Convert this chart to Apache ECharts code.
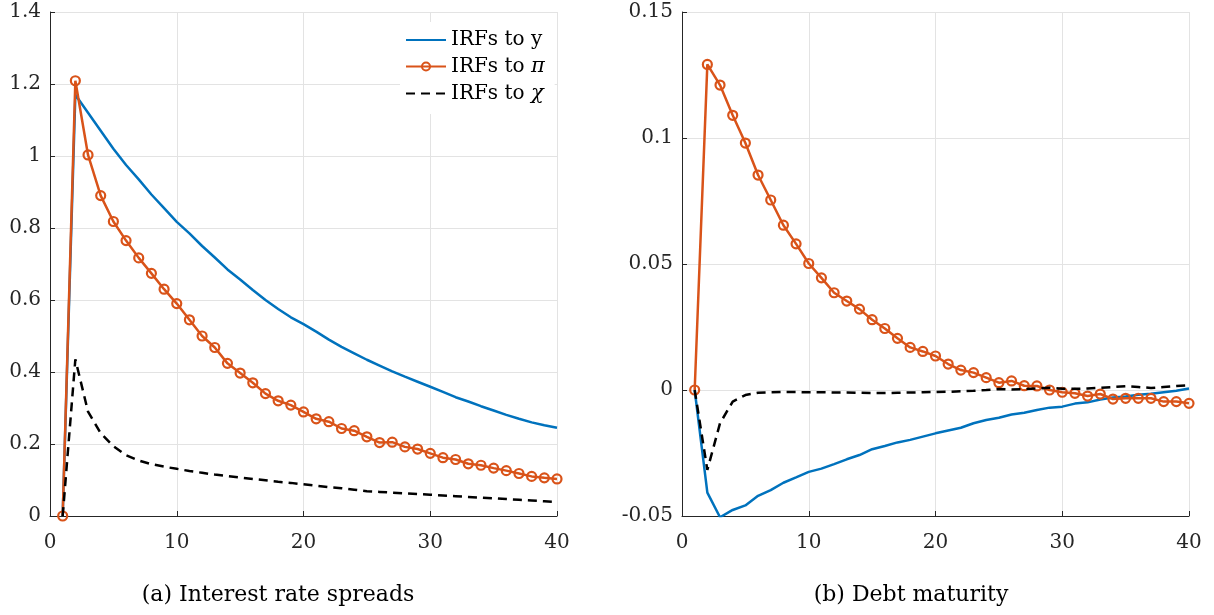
<!DOCTYPE html>
<html>
<head>
<meta charset="utf-8">
<script src="https://cdn.jsdelivr.net/npm/echarts@6/dist/echarts.min.js"></script>
<style>
html,body{margin:0;padding:0;background:#fff;}
#chart{width:1214px;height:615px;}
</style>
</head>
<body>
<div id="chart"></div>
<script>
// Horizon (periods)
var periods = [];
for (var i = 1; i <= 40; i++) periods.push(i);

// Panel (a): Interest rate spreads
var spreadY = [0, 1.17, 1.12, 1.07, 1.02, 0.975, 0.935, 0.893, 0.855, 0.817,
  0.785, 0.75, 0.718, 0.685, 0.657, 0.628, 0.6, 0.575, 0.552, 0.533,
  0.512, 0.49, 0.47, 0.452, 0.434, 0.418, 0.402, 0.387, 0.373, 0.359,
  0.345, 0.33, 0.318, 0.305, 0.293, 0.281, 0.27, 0.26, 0.252, 0.245];
var spreadPi = [0, 1.209, 1.003, 0.89, 0.818, 0.765, 0.717, 0.674, 0.63, 0.59,
  0.545, 0.5, 0.468, 0.424, 0.397, 0.37, 0.34, 0.32, 0.308, 0.289,
  0.27, 0.262, 0.243, 0.237, 0.22, 0.204, 0.205, 0.192, 0.186, 0.174,
  0.162, 0.157, 0.145, 0.141, 0.133, 0.126, 0.118, 0.11, 0.106, 0.103];
var spreadChi = [0, 0.435, 0.29, 0.23, 0.194, 0.169, 0.154, 0.144, 0.137, 0.131,
  0.125, 0.12, 0.115, 0.111, 0.107, 0.103, 0.099, 0.095, 0.092, 0.088,
  0.084, 0.08, 0.077, 0.073, 0.069, 0.067, 0.065, 0.063, 0.061, 0.059,
  0.057, 0.055, 0.053, 0.051, 0.049, 0.047, 0.045, 0.043, 0.041, 0.039];

// Panel (b): Debt maturity
var maturityY = [0, -0.0407, -0.0505, -0.0476, -0.0458, -0.042, -0.0397, -0.0368, -0.0347, -0.0325,
  -0.0312, -0.0294, -0.0275, -0.0258, -0.0235, -0.0222, -0.0208, -0.0198, -0.0185, -0.0172,
  -0.0161, -0.015, -0.0132, -0.0119, -0.011, -0.0097, -0.009, -0.0079, -0.007, -0.0066,
  -0.0054, -0.0049, -0.0038, -0.003, -0.0026, -0.0019, -0.0015, -0.0009, -0.0003, 0.0006];
var maturityPi = [0, 0.1292, 0.121, 0.109, 0.098, 0.0853, 0.0754, 0.0654, 0.058, 0.0502,
  0.0445, 0.0386, 0.0353, 0.0321, 0.0279, 0.0244, 0.0205, 0.0169, 0.0153, 0.0135,
  0.0103, 0.0079, 0.0069, 0.0049, 0.0029, 0.0036, 0.0017, 0.0016, 0.0, -0.0009,
  -0.0013, -0.0024, -0.0016, -0.0036, -0.0033, -0.0033, -0.0033, -0.0046, -0.0046, -0.0053];
var maturityChi = [0, -0.0317, -0.0132, -0.0046, -0.002, -0.0011, -0.0009, -0.0008, -0.0008, -0.0009,
  -0.0009, -0.001, -0.001, -0.0011, -0.0012, -0.0012, -0.0011, -0.001, -0.0009, -0.0008,
  -0.0007, -0.0005, -0.0003, 0.0, 0.0004, 0.0002, 0.0003, 0.0006, 0.0009, 0.0005,
  0.0005, 0.0006, 0.0009, 0.0012, 0.0015, 0.0012, 0.0008, 0.0012, 0.0016, 0.0019];

var seriesNames = ['IRFs to y', 'IRFs to π', 'IRFs to χ'];
var captions = ['(a) Interest rate spreads', '(b) Debt maturity'];

var FONT = '"DejaVu Serif", serif';
var BLUE = '#0072BD', ORANGE = '#D95319', BLACK = '#000000';

function pairs(vals) {
  return periods.map(function (p, i) { return [p, vals[i]]; });
}

function xAx(idx) {
  return {
    gridIndex: idx, type: 'value', min: 0, max: 40, interval: 10,
    axisLine: { show: true, onZero: false, lineStyle: { color: '#262626', width: 1 } },
    axisTick: { show: true, inside: true, length: 5, lineStyle: { color: '#262626' } },
    axisLabel: { color: '#262626', fontFamily: FONT, fontSize: 20, margin: 17 },
    splitLine: { show: true, lineStyle: { color: '#e3e3e3', width: 1 } }
  };
}
function yAx(idx, min, max, interval) {
  return {
    gridIndex: idx, type: 'value', min: min, max: max, interval: interval,
    axisLine: { show: true, onZero: false, lineStyle: { color: '#262626', width: 1 } },
    axisTick: { show: true, inside: true, length: 5, lineStyle: { color: '#262626' } },
    axisLabel: { color: '#262626', fontFamily: FONT, fontSize: 20, margin: 9 },
    splitLine: { show: true, lineStyle: { color: '#e3e3e3', width: 1 } }
  };
}

function lineSeries(name, idx, vals, kind) {
  var s = {
    name: name, type: 'line', xAxisIndex: idx, yAxisIndex: idx,
    data: pairs(vals), smooth: false, animation: false,
    emphasis: { disabled: true }
  };
  if (kind === 'y') {
    s.symbol = 'none';
    s.lineStyle = { color: BLUE, width: 2.5 };
    s.itemStyle = { color: BLUE };
    s.z = 2;
  } else if (kind === 'pi') {
    s.symbol = 'circle';
    s.symbolSize = 9;
    s.showAllSymbol = true;
    s.lineStyle = { color: ORANGE, width: 2.5 };
    s.itemStyle = { color: 'rgba(255,255,255,0)', borderColor: ORANGE, borderWidth: 2.2 };
    s.z = 3;
  } else {
    s.symbol = 'none';
    s.lineStyle = { color: BLACK, width: 2.5, type: [9, 6] };
    s.itemStyle = { color: BLACK };
    s.z = 4;
  }
  return s;
}

var noDot = { color: 'rgba(0,0,0,0)', borderWidth: 0, opacity: 0 };

var option = {
  backgroundColor: '#ffffff',
  animation: false,
  grid: [
    { left: 50, top: 12, width: 507, height: 504, containLabel: false },
    { left: 682, top: 12, width: 507, height: 504, containLabel: false }
  ],
  xAxis: [xAx(0), xAx(1)],
  yAxis: [yAx(0, 0, 1.4, 0.2), yAx(1, -0.05, 0.15, 0.05)],
  legend: {
    data: [
      { name: seriesNames[0], itemStyle: noDot },
      { name: seriesNames[1] },
      { name: seriesNames[2], itemStyle: noDot }
    ],
    orient: 'vertical',
    left: 400, top: 22,
    itemWidth: 40, itemHeight: 10, itemGap: 6,
    padding: [8, 10, 10, 5],
    backgroundColor: '#ffffff',
    selectedMode: false,
    formatter: function (n) {
      var last = n.split('to ')[1];
      if (last === 'y') return 'IRFs to y';
      return 'IRFs to {g|' + last + '}';
    },
    textStyle: {
      fontFamily: FONT, fontSize: 20, color: '#000',
      rich: { g: { fontFamily: FONT, fontSize: 21, fontStyle: 'italic', color: '#000' } }
    }
  },
  title: [
    { text: captions[0], left: 273, top: 579, textAlign: 'center',
      textStyle: { fontFamily: FONT, fontSize: 22, fontWeight: 'normal', color: '#000' } },
    { text: captions[1], left: 906, top: 579, textAlign: 'center',
      textStyle: { fontFamily: FONT, fontSize: 22, fontWeight: 'normal', color: '#000' } }
  ],
  series: [
    lineSeries(seriesNames[0], 0, spreadY, 'y'),
    lineSeries(seriesNames[1], 0, spreadPi, 'pi'),
    lineSeries(seriesNames[2], 0, spreadChi, 'chi'),
    lineSeries(seriesNames[0], 1, maturityY, 'y'),
    lineSeries(seriesNames[1], 1, maturityPi, 'pi'),
    lineSeries(seriesNames[2], 1, maturityChi, 'chi')
  ]
};

var chart = echarts.init(document.getElementById('chart'), null, { renderer: 'canvas' });
chart.setOption(option);
</script>
</body>
</html>
